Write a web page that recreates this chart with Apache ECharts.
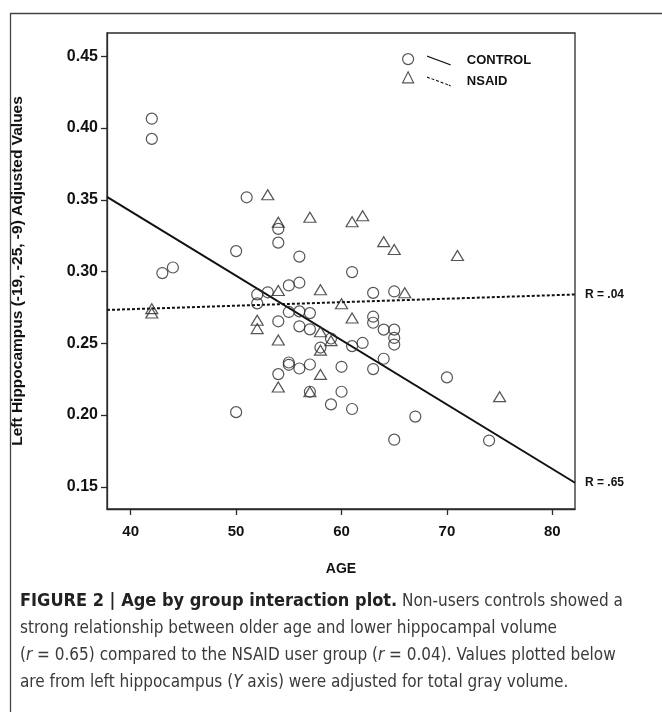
<!DOCTYPE html>
<html><head><meta charset="utf-8">
<script src="https://cdn.jsdelivr.net/npm/echarts@6/dist/echarts.min.js"></script>
<style>html,body{margin:0;padding:0;background:#fff}#c{width:662px;height:712px}</style>
</head><body><div id="c"></div>
<script>
// ---- data ----
const controlAge = [42, 42, 51, 54, 54, 50, 56, 43, 44, 61,
  52, 53, 52, 55, 56, 54, 55, 56, 57, 56,
  57, 55, 55, 56, 57, 54, 57, 50, 63, 65,
  63, 63, 64, 65, 65, 65, 59, 58, 61, 62,
  64, 63, 60, 70, 60, 59, 61, 67, 65, 74];
const controlVal = [0.4065, 0.3924, 0.3517, 0.3297, 0.3201, 0.3142, 0.3104, 0.2989, 0.3028, 0.2996,
  0.2840, 0.2855, 0.2778, 0.2903, 0.2922, 0.2653, 0.2718, 0.2722, 0.2710, 0.2618,
  0.2597, 0.2366, 0.2350, 0.2324, 0.2352, 0.2285, 0.2162, 0.2020, 0.2851, 0.2861,
  0.2685, 0.2643, 0.2595, 0.2595, 0.2537, 0.2491, 0.2533, 0.2470, 0.2480, 0.2502,
  0.2392, 0.2320, 0.2336, 0.2262, 0.2162, 0.2074, 0.2042, 0.1989, 0.1828, 0.1822];
const nsaidAge = [53, 54, 57, 61, 62, 64, 65, 71, 42, 42,
  54, 52, 52, 54, 54, 57, 58, 66, 60, 61,
  58, 59, 58, 58, 75];
const nsaidVal = [0.3535, 0.3343, 0.3378, 0.3347, 0.3389, 0.3208, 0.3153, 0.3111, 0.2741, 0.2711,
  0.2868, 0.2660, 0.2602, 0.2523, 0.2195, 0.2162, 0.2873, 0.2852, 0.2775, 0.2676,
  0.2580, 0.2518, 0.2452, 0.2283, 0.2128];
const controlFitAge = [37.75, 82.15];
const controlFitVal = [0.3520, 0.1528];
const nsaidFitAge = [37.75, 82.15];
const nsaidFitVal = [0.2732, 0.2840];
const fitLabels = ['R = .65', 'R = .04'];
const xTicks = [40, 50, 60, 70, 80];
const yTicks = [0.15, 0.20, 0.25, 0.30, 0.35, 0.40, 0.45];
const seriesNames = ['CONTROL', 'NSAID'];

const zip = (a, b) => a.map((v, i) => [v, b[i]]);
const ink = '#2b2b2b';
const bold = {fontFamily: "'Liberation Sans', Arial, sans-serif", fontWeight: 'bold', color: '#111'};
const capFont = "'Liberation Sans Narrow', 'DejaVu Sans Condensed', sans-serif";

const chart = echarts.init(document.getElementById('c'), null, {renderer: 'canvas'});
chart.setOption({
  animation: false,
  backgroundColor: '#fff',
  grid: {left: 107, top: 33, width: 468, height: 476, show: true, borderColor: ink, borderWidth: 1.3, backgroundColor: 'transparent'},
  xAxis: {
    type: 'value', min: 37.75, max: 82.15,
    name: 'AGE', nameLocation: 'middle', nameGap: 53,
    nameTextStyle: Object.assign({fontSize: 14}, bold),
    axisLine: {show: true, lineStyle: {color: ink, width: 1.3}},
    axisTick: {show: true, length: 6, lineStyle: {color: ink, width: 1.3}, customValues: xTicks},
    axisLabel: Object.assign({fontSize: 15, margin: 15, customValues: xTicks}, bold),
    splitLine: {show: false}
  },
  yAxis: {
    type: 'value', min: 0.1345, max: 0.4662,
    name: 'Left Hippocampus (-19, -25, -9) Adjusted Values', nameLocation: 'middle', nameGap: 81, nameRotate: 90,
    nameTextStyle: Object.assign({fontSize: 15.5}, bold),
    axisLine: {show: true, lineStyle: {color: ink, width: 1.3}},
    axisTick: {show: true, length: 6, lineStyle: {color: ink, width: 1.3}, customValues: yTicks},
    axisLabel: Object.assign({fontSize: 16, margin: 9, customValues: yTicks, formatter: v => v.toFixed(2)}, bold),
    splitLine: {show: false}
  },
  legend: [
    {
      left: 402, top: 53, padding: 0, orient: 'vertical', itemWidth: 11, itemHeight: 11, itemGap: 6,
      data: ['CONTROL pts', 'NSAID pts'], formatter: () => '', selectedMode: false,
      itemStyle: {borderWidth: 1.2, borderColor: ink, color: 'rgba(0,0,0,0)'}
    },
    {
      left: 427, top: 54, padding: 0, orient: 'vertical', itemWidth: 26, itemHeight: 10, itemGap: 8, selectedMode: false,
      textStyle: Object.assign({fontSize: 13, padding: [4, 0, 0, 10]}, bold),
      data: [
        {name: seriesNames[0], icon: 'path://M0,0 L26,9.5 L26,11 L0,1.5 Z', itemStyle: {color: '#111', borderWidth: 0}},
        {name: seriesNames[1], icon: 'path://M0,0 L3,1.1 L3,2.4 L0,1.3 Z M5,1.8 L8,2.9 L8,4.2 L5,3.1 Z M10,3.7 L13,4.8 L13,6.1 L10,5 Z M15,5.5 L18,6.6 L18,7.9 L15,6.8 Z M20,7.3 L23,8.4 L23,9.7 L20,8.6 Z M24,8.8 L26,9.5 L26,11 L24,10.2 Z', itemStyle: {color: '#111', borderWidth: 0}}
      ]
    }
  ],
  series: [
    {
      name: 'CONTROL pts', type: 'scatter', symbol: 'circle', symbolSize: 11,
      itemStyle: {color: 'rgba(0,0,0,0)', borderColor: ink, borderWidth: 1.2},
      data: zip(controlAge, controlVal), z: 3
    },
    {
      name: 'NSAID pts', type: 'scatter', symbol: 'triangle', symbolSize: [12, 10],
      itemStyle: {color: 'rgba(0,0,0,0)', borderColor: ink, borderWidth: 1.2},
      data: zip(nsaidAge, nsaidVal), z: 3
    },
    {
      name: seriesNames[0], type: 'line', symbol: 'none', data: zip(controlFitAge, controlFitVal),
      lineStyle: {color: '#111', width: 2}, itemStyle: {color: '#111'}, z: 2,
      endLabel: Object.assign({show: true, formatter: fitLabels[0], fontSize: 12, distance: 10}, bold)
    },
    {
      name: seriesNames[1], type: 'line', symbol: 'none', data: zip(nsaidFitAge, nsaidFitVal),
      lineStyle: {color: '#111', width: 2, type: [3, 2]}, itemStyle: {color: '#111'}, z: 2,
      endLabel: Object.assign({show: true, formatter: fitLabels[1], fontSize: 12, distance: 10}, bold)
    }
  ],
  title: {
    left: 20, top: 588, padding: 0,
    text: '{b|FIGURE 2 | Age by group interaction plot.} Non-users controls showed a\nstrong relationship between older age and lower hippocampal volume\n({i|r} = 0.65) compared to the NSAID user group ({i|r} = 0.04). Values plotted below\nare from left hippocampus ({i|Y} axis) were adjusted for total gray volume.',
    textStyle: {
      fontFamily: capFont, fontSize: 17, fontWeight: 'normal', color: '#3a3a3a', lineHeight: 27,
      rich: {
        b: {fontFamily: capFont, fontSize: 18, fontWeight: 'bold', color: '#222', lineHeight: 27},
        i: {fontFamily: capFont, fontSize: 17, fontStyle: 'italic', color: '#3a3a3a', lineHeight: 27}
      }
    }
  },
  graphic: [
    {type: 'rect', left: 8, top: 11, shape: {width: 700, height: 760}, style: {fill: 'none', stroke: '#444', lineWidth: 1.3}, silent: true, z: -1}
  ]
});
</script>
</body></html>
